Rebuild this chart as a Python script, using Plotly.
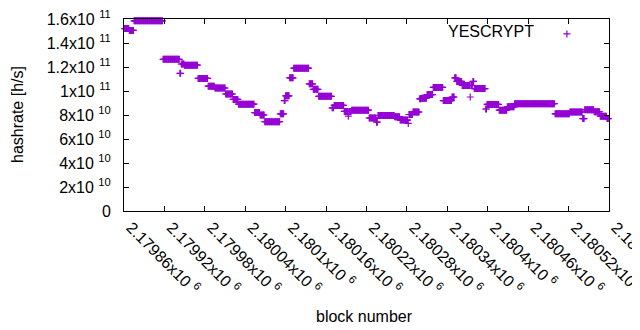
import plotly.graph_objects as go

# Step runs: first block of each run and its hashrate (h/s)
BASE = 2179860
run_start_offset = [1, 8, 15, 58, 83, 85, 90, 110, 125, 135, 151, 162, 170, 194, 202, 209,
                    232, 238, 240, 246, 252, 275, 281, 289, 309, 312, 327, 333, 334, 338,
                    364, 375, 377, 402, 410, 422, 423, 429, 439, 442, 450, 459, 474, 487,
                    491, 494, 502, 514, 515, 518, 520, 537, 539, 557, 569, 580, 640, 662,
                    681, 684, 698, 707, 717]
run_hashrate_e9 = [152, 150.5, 158.5, 126.4, 114.7, 122.5, 121.5, 110.5, 104, 102.5, 97.5, 93,
                   89, 82, 80, 74.4, 81, 92, 96, 111, 119, 106, 101.4, 95.6, 86, 88, 83, 79,
                   83, 84, 77.5, 74, 79.6, 78.6, 75.8, 73, 80.4, 82.5, 93.5, 94, 97, 103, 92,
                   95, 111, 108, 104.6, 95, 104.6, 108, 102, 85, 88.8, 84, 86.8, 89.4, 81,
                   82.5, 77, 84.4, 82.7, 79, 77]
last_offset = 720

x_tick_vals = [2179860 + 60 * i for i in range(13)]
x_tick_text = ["2.17986", "2.17992", "2.17998", "2.18004", "2.1801", "2.18016", "2.18022",
               "2.18028", "2.18034", "2.1804", "2.18046", "2.18052", "2.18058"]
y_tick_vals = [0, 2e10, 4e10, 6e10, 8e10, 1e11, 1.2e11, 1.4e11, 1.6e11]
y_tick_text = ["0", "2x10", "4x10", "6x10", "8x10", "1x10", "1.2x10", "1.4x10", "1.6x10"]
y_tick_exp = ["", "10", "10", "10", "10", "11", "11", "11", "11"]

blocks, rates = [], []
for i, start in enumerate(run_start_offset):
    end = run_start_offset[i + 1] if i + 1 < len(run_start_offset) else last_offset
    for off in range(start, end):
        blocks.append(BASE + off)
        rates.append(run_hashrate_e9[i] * 1e9)

color = "#9400d3"
font = dict(family="Liberation Sans, Arial, sans-serif", size=16, color="#000000")

fig = go.Figure()
fig.add_trace(go.Scatter(
    x=blocks, y=rates, mode="markers", name="",
    marker=dict(symbol="cross-thin-open", size=5, line=dict(color=color, width=1.2), color=color),
    cliponaxis=False, showlegend=True,
))

yt = [t if not e else f"{t} <sup>{e}</sup>" for t, e in zip(y_tick_text, y_tick_exp)]
xt = [f"{t}x10 <sup>6</sup>" for t in x_tick_text]

fig.update_layout(
    width=632, height=322,
    margin=dict(l=116, r=31, t=11, b=119, autoexpand=False),
    paper_bgcolor="white", plot_bgcolor="white",
    font=font,
    showlegend=True,
    legend=dict(x=0.872, y=1.0104, xanchor="left", yanchor="top",
                bgcolor="rgba(0,0,0,0)", font=font),
    xaxis=dict(range=[2179860, 2180580], tickvals=x_tick_vals, ticktext=xt, tickangle=45,
               ticks="inside", ticklen=5, tickcolor="black", showline=True, linecolor="black",
               linewidth=1, mirror="ticks", showgrid=False, zeroline=False, automargin=False,
               ticklabeloverflow="allow", ticklabelshift=7),
    yaxis=dict(range=[0, 1.6e11], tickvals=y_tick_vals, ticktext=yt,
               ticks="inside", ticklen=5, tickcolor="black", showline=True, linecolor="black",
               linewidth=1, mirror="ticks", showgrid=False, zeroline=False, automargin=False,
               ticklabeloverflow="allow", ticklabelstandoff=9),
    annotations=[
        dict(text="YESCRYPT", xref="paper", yref="paper", x=0.849, y=0.9375,
             xanchor="right", yanchor="middle", showarrow=False, font=font),
        dict(text="hashrate [h/s]", xref="paper", yref="paper", x=-0.2206, y=0.5,
             xanchor="center", yanchor="middle", textangle=-90, showarrow=False, font=font),
        dict(text="block number", xref="paper", yref="paper", x=0.495, y=-0.547,
             xanchor="center", yanchor="middle", showarrow=False, font=font),
    ],
)

fig.write_html("out.html")
